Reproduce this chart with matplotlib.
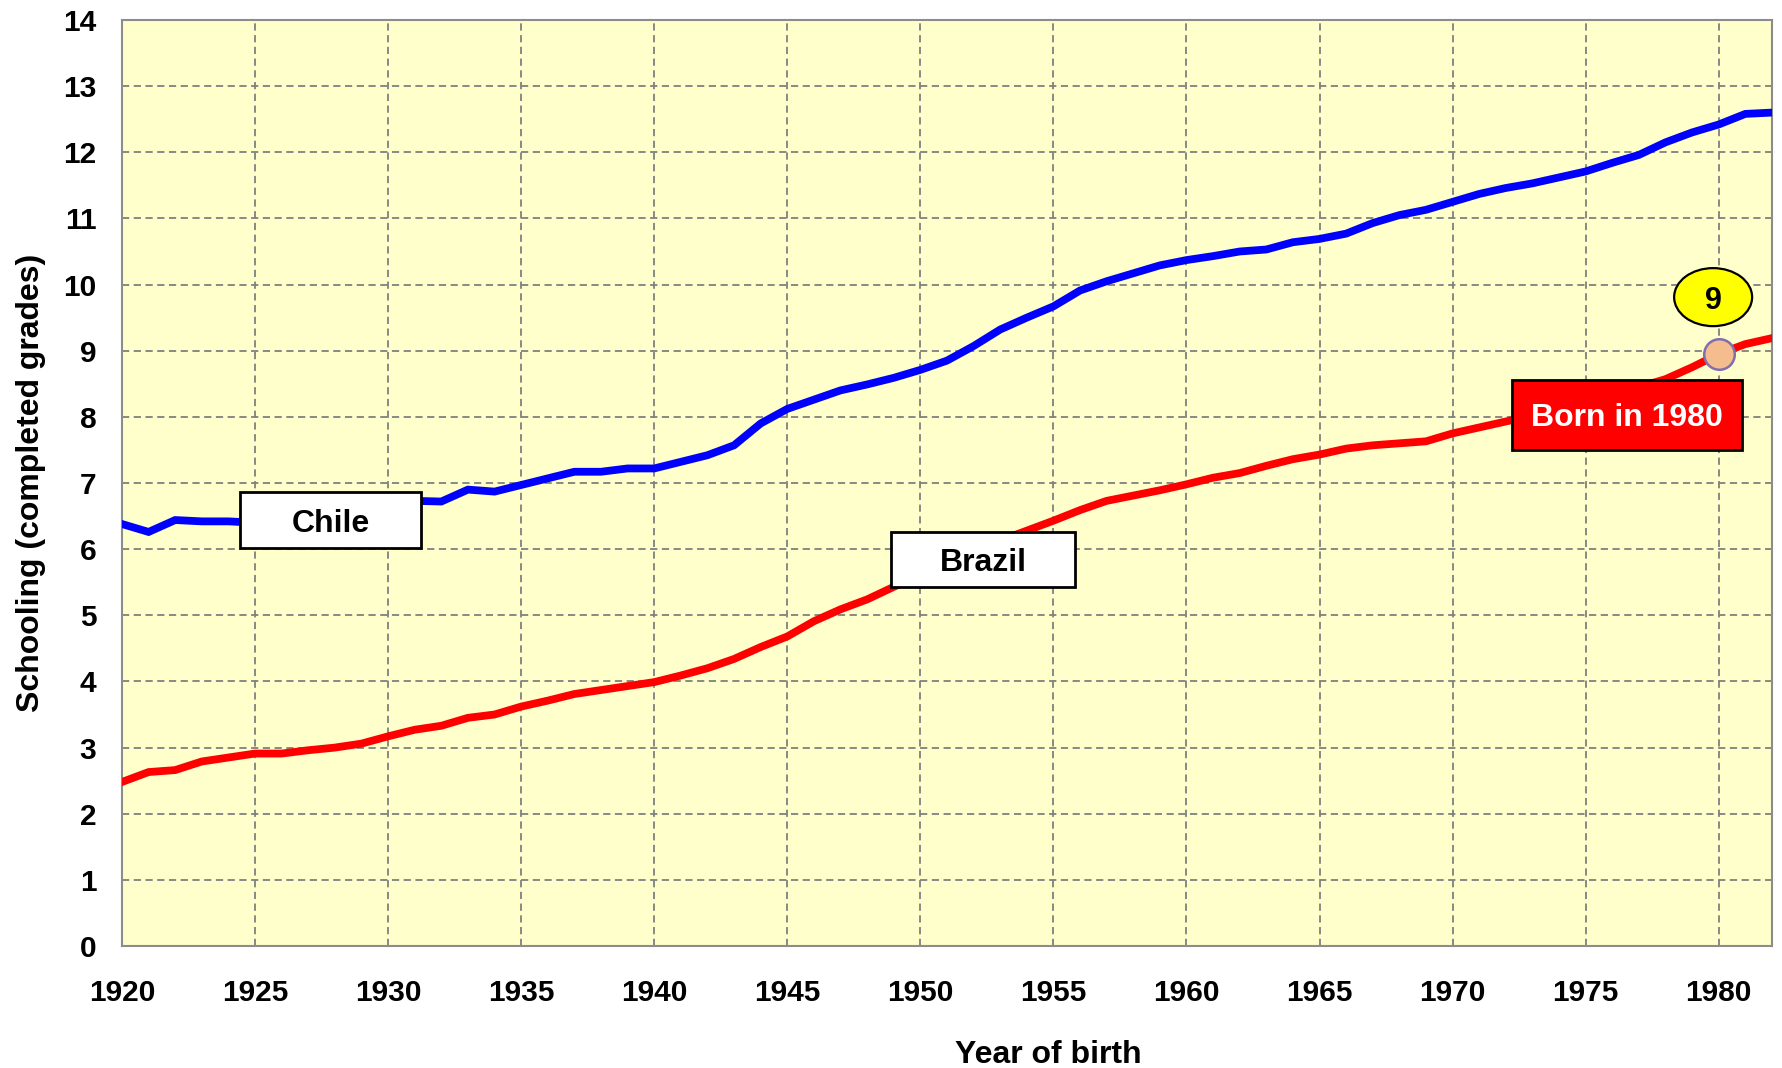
import matplotlib
matplotlib.use("Agg")
import matplotlib.pyplot as plt
from matplotlib.patches import Rectangle, Ellipse

plt.rcParams['font.family'] = ['Liberation Sans', 'DejaVu Sans']
plt.rcParams['font.weight'] = 'bold'

years = list(range(1920, 1983))

chile = [6.38, 6.26, 6.44, 6.42, 6.42, 6.40, 6.45, 6.50, 6.55, 6.60,
         6.67, 6.73, 6.72, 6.90, 6.87, 6.97, 7.07, 7.17, 7.17, 7.22,
         7.22, 7.32, 7.42, 7.57, 7.90, 8.12, 8.26, 8.40, 8.49, 8.59,
         8.71, 8.85, 9.07, 9.32, 9.50, 9.67, 9.91, 10.05, 10.17, 10.29,
         10.37, 10.43, 10.50, 10.53, 10.64, 10.69, 10.77, 10.93, 11.05, 11.13,
         11.25, 11.37, 11.46, 11.53, 11.62, 11.71, 11.84, 11.96, 12.15, 12.30,
         12.42, 12.58, 12.60]

brazil = [2.48, 2.63, 2.66, 2.79, 2.85, 2.91, 2.91, 2.96, 3.00, 3.06,
          3.17, 3.27, 3.33, 3.45, 3.50, 3.62, 3.71, 3.81, 3.87, 3.93,
          3.99, 4.09, 4.20, 4.34, 4.52, 4.68, 4.91, 5.09, 5.24, 5.43,
          5.60, 5.80, 5.97, 6.13, 6.28, 6.43, 6.59, 6.73, 6.81, 6.89,
          6.98, 7.08, 7.15, 7.26, 7.36, 7.43, 7.52, 7.57, 7.60, 7.63,
          7.75, 7.84, 7.93, 8.02, 8.11, 8.21, 8.33, 8.45, 8.57, 8.75,
          8.95, 9.10, 9.19]

highlight_year = 1980
highlight_label = "9"

fig = plt.figure(figsize=(17.83, 10.68), dpi=100)
ax = fig.add_axes([0.0684, 0.1142, 0.9254, 0.8671])
ax.set_facecolor('#FFFFCC')

ax.plot(years, chile, color='#0000FF', lw=5.6, solid_joinstyle='miter', zorder=3)
ax.plot(years, brazil, color='#FF0000', lw=5.6, solid_joinstyle='miter', zorder=3)

# marker on Brazil at 1980
hy = brazil[years.index(highlight_year)]
ax.plot([highlight_year], [hy], marker='o', ms=22, mfc='#F5BC8E', mec='#7F6FB0',
        mew=1.8, zorder=6)

ax.set_xlim(1920, 1982)
ax.set_ylim(0, 14)
ax.set_xticks(range(1920, 1981, 5))
ax.set_yticks(range(0, 15))
ax.tick_params(length=0, labelsize=21.5)
ax.tick_params(axis='x', pad=24)
ax.tick_params(axis='y', pad=18.5)
ax.grid(True, color='#808080', ls=(0, (4, 2.5)), lw=1.3)
for s in ax.spines.values():
    s.set_color('#8C8C8C')
    s.set_linewidth(1.5)

ax.set_ylabel('Schooling (completed grades)', fontsize=23, fontweight='bold', labelpad=12)
fig.text(0.588, 0.0047, 'Year of birth', fontsize=23, fontweight='bold', ha='center', va='baseline')

# label boxes
def label_box(x0, x1, y0, y1, text, fc, tc):
    ax.add_patch(Rectangle((x0, y0), x1 - x0, y1 - y0, facecolor=fc, edgecolor='black',
                           lw=2, zorder=5))
    ax.text((x0 + x1) / 2, (y0 + y1) / 2, text, ha='center', va='center_baseline',
            fontsize=23, fontweight='bold', color=tc, zorder=7)

label_box(1924.43, 1931.24, 6.02, 6.86, 'Chile', 'white', 'black')
label_box(1948.9, 1955.81, 5.43, 6.26, 'Brazil', 'white', 'black')
label_box(1972.24, 1980.88, 7.50, 8.56, 'Born in 1980', '#FF0000', 'white')

ax.add_patch(Ellipse((1979.79, 9.81), 2.93, 0.877, facecolor='#FFFF00', edgecolor='black',
                     lw=1.6, zorder=5))
ax.text(1979.79, 9.81, highlight_label, ha='center', va='center_baseline', fontsize=22,
        fontweight='bold', zorder=7)

fig.savefig('out.png', dpi=100)
